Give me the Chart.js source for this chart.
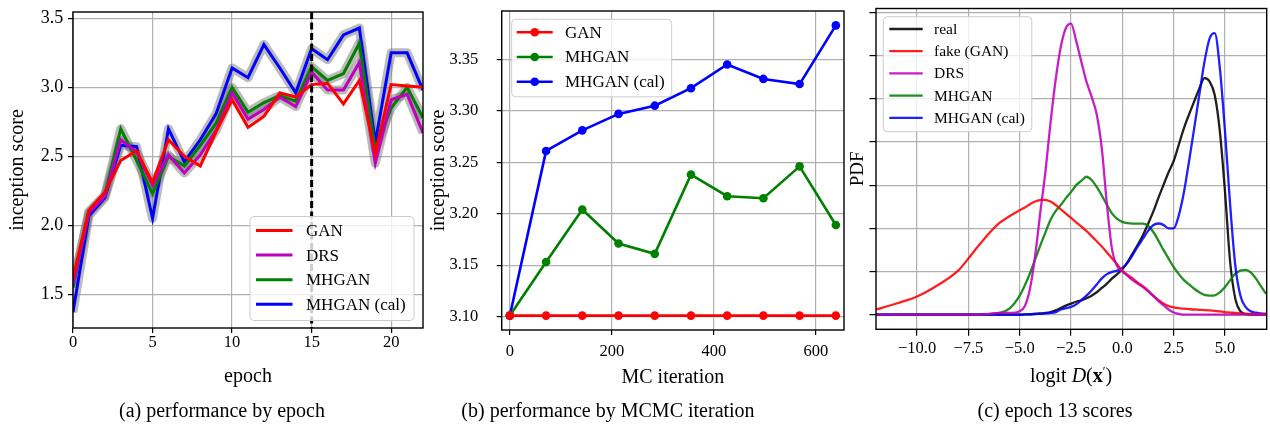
<!DOCTYPE html>
<html><head><meta charset="utf-8">
<script src="https://cdn.jsdelivr.net/npm/chart.js@4.4.1/dist/chart.umd.min.js"></script>
<style>
html,body{margin:0;padding:0;background:#fff;width:1270px;height:428px;overflow:hidden;position:relative;}
canvas{position:absolute;top:0;}
.cap{position:absolute;font-family:"Liberation Serif",serif;font-size:20px;line-height:1;color:#000;white-space:nowrap;transform:translate(-50%,-50%);}
.cap sup{font-size:0.6em;vertical-align:0.55em;}
</style></head><body>
<canvas id="ca" width="430" height="428" style="left:0px;width:430px;height:428px"></canvas>
<canvas id="cb" width="425" height="428" style="left:425px;width:425px;height:428px"></canvas>
<canvas id="cc" width="425" height="428" style="left:845px;width:425px;height:428px"></canvas>
<div class="cap" style="left:1071px;top:375px">logit <i>D</i>(<b>x</b><sup>′</sup>)</div>
<div class="cap" style="left:222px;top:410px">(a) performance by epoch</div>
<div class="cap" style="left:608px;top:410px">(b) performance by MCMC iteration</div>
<div class="cap" style="left:1055px;top:410px">(c) epoch 13 scores</div>
<script>
// ---------- Panel (a): inception score by epoch ----------
const epochs = [0,1,2,3,4,5,6,7,8,9,10,11,12,13,14,15,16,17,18,19,20,21,22];
const ganA      = [1.62,2.11,2.24,2.47,2.54,2.31,2.62,2.50,2.43,2.68,2.91,2.71,2.79,2.96,2.93,3.02,3.03,2.88,3.05,2.52,3.02,3.01,3.00];
const drsA      = [1.57,2.09,2.21,2.62,2.53,2.29,2.51,2.38,2.51,2.69,2.96,2.77,2.84,2.93,2.86,3.11,2.98,2.98,3.18,2.45,2.91,2.95,2.67];
const mhganA    = [1.55,2.10,2.22,2.70,2.47,2.23,2.50,2.43,2.58,2.74,3.00,2.82,2.89,2.94,2.90,3.15,3.05,3.10,3.32,2.55,2.85,3.00,2.78];
const mhganCalA = [1.37,2.07,2.20,2.58,2.57,2.05,2.70,2.46,2.62,2.81,3.14,3.07,3.31,3.14,2.96,3.28,3.20,3.38,3.43,2.60,3.25,3.25,2.98];
const selectedEpoch = 15;
const aXTicks = [0,5,10,15,20];
const aYTicks = [1.5,2.0,2.5,3.0,3.5];
const aLabels = ['GAN','DRS','MHGAN','MHGAN (cal)'];

// ---------- Panel (b): inception score by MC iteration ----------
const mcIter     = [0,71,142,213,284,355,426,497,568,639];
const ganB       = [3.101,3.101,3.101,3.101,3.101,3.101,3.101,3.101,3.101,3.101];
const mhganB     = [3.101,3.153,3.204,3.171,3.161,3.238,3.217,3.215,3.246,3.189];
const mhganCalB  = [3.101,3.261,3.281,3.297,3.305,3.322,3.345,3.331,3.326,3.383];
const bXTicks = [0,200,400,600];
const bYTicks = [3.10,3.15,3.20,3.25,3.30,3.35];
const bLabels = ['GAN','MHGAN','MHGAN (cal)'];

// ---------- Panel (c): PDF of logit D(x') at epoch 13 ----------
const logitX = [-12,-11,-10,-9,-8,-7.5,-7,-6.5,-6,-5.5,-5,-4.75,-4.5,-4.25,-4,-3.75,-3.5,-3.25,-3,-2.75,-2.5,-2.25,-2,-1.75,-1.5,-1.25,-1,-0.75,-0.5,-0.25,0,0.25,0.5,0.75,1,1.25,1.5,1.75,2,2.25,2.5,2.75,3,3.25,3.5,3.75,4,4.25,4.5,4.75,5,5.25,5.5,5.75,6,6.25,6.5,6.75,7];
const pdfReal = [0,0,0,0,0,0,0,0,0,0,0,0.0003,0.0005,0.001,0.0015,0.002,0.003,0.005,0.0077,0.0105,0.0128,0.015,0.0166,0.019,0.022,0.026,0.031,0.036,0.042,0.047,0.053,0.061,0.071,0.081,0.092,0.105,0.119,0.135,0.150,0.165,0.178,0.197,0.216,0.232,0.247,0.262,0.2738,0.270,0.254,0.212,0.142,0.061,0.0186,0.004,0.001,0,0,0,0];
const pdfFake = [0.006,0.013,0.021,0.034,0.051,0.065,0.080,0.094,0.106,0.114,0.121,0.124,0.128,0.131,0.1326,0.133,0.131,0.127,0.122,0.117,0.112,0.107,0.102,0.097,0.091,0.085,0.079,0.072,0.065,0.058,0.051,0.046,0.042,0.037,0.033,0.028,0.022,0.017,0.013,0.010,0.0085,0.0075,0.007,0.0065,0.006,0.0057,0.0054,0.005,0.0045,0.0038,0.003,0.0025,0.002,0.0015,0.001,0.0008,0.0006,0.0005,0.0004];
const pdfDRS = [0,0,0,0,0,0,0,0.001,0.002,0.002,0.004,0.010,0.030,0.068,0.118,0.165,0.222,0.272,0.310,0.332,0.337,0.317,0.293,0.270,0.2525,0.232,0.192,0.127,0.075,0.056,0.050,0.045,0.040,0.036,0.032,0.027,0.022,0.016,0.011,0.006,0.0025,0.001,0,0,0,0,0,0,0,0,0,0,0,0,0,0,0,0,0];
const pdfMHGAN = [0,0,0,0,0,0,0,0.0005,0.002,0.007,0.022,0.034,0.048,0.064,0.080,0.095,0.110,0.120,0.127,0.135,0.142,0.150,0.155,0.1597,0.156,0.148,0.138,0.127,0.117,0.111,0.1075,0.106,0.1055,0.1055,0.1055,0.103,0.096,0.086,0.075,0.065,0.055,0.047,0.040,0.035,0.030,0.026,0.023,0.0222,0.0225,0.026,0.032,0.040,0.0476,0.051,0.052,0.049,0.042,0.033,0.024];
const pdfMHGANCal = [0,0,0,0,0,0,0,0,0,0,0,0.0003,0.0005,0.0008,0.001,0.0015,0.002,0.003,0.006,0.0075,0.009,0.012,0.017,0.022,0.028,0.035,0.042,0.047,0.0495,0.051,0.054,0.060,0.069,0.079,0.088,0.097,0.1036,0.1056,0.104,0.100,0.100,0.115,0.142,0.178,0.216,0.255,0.293,0.320,0.326,0.285,0.212,0.127,0.057,0.022,0.009,0.004,0.0023,0.0015,0.001];
const cXTicks = [-10,-7.5,-5,-2.5,0,2.5,5];
const cYTicks = [0,0.05,0.10,0.15,0.20,0.25,0.30,0.35];
const cLabels = ['real','fake (GAN)','DRS','MHGAN','MHGAN (cal)'];

// ---------- styling ----------
const RED='#ff0000', MAG='#bf00bf', GRN='#008000', BLU='#0000ff', BLK='#000000';
const FONT='Liberation Serif';
const tickFont = {family:FONT, size:16.5, lineHeight:1};
const titleFont = {family:FONT, size:20, lineHeight:1};
Chart.defaults.font.family = FONT;
Chart.defaults.color = '#000';

function pts(xs, ys){ return xs.map((x,i)=>({x:x, y:ys[i]})); }

function gridOpts(tl){
  return {color:'#b0b0b0', lineWidth:1.2, drawTicks:true, tickLength:tl, tickColor:'#000', tickWidth:1.2};
}
function makeScales(c){
  return {
    x:{type:'linear', min:c.xMin, max:c.xMax,
      afterFit:s=>{ s.height=c.xHeight; s.paddingLeft=0; s.paddingRight=0; },
      afterBuildTicks:s=>{ s.ticks=c.xTicks.map(v=>({value:v})); },
      ticks:{autoSkip:false, maxRotation:0, minRotation:0, padding:c.xTickPad, font:tickFont, color:'#000', callback:c.xFmt},
      grid:gridOpts(c.tickLen), border:{display:false},
      title:c.xTitle?{display:true, text:c.xTitle, font:titleFont, color:'#000', padding:{top:0,bottom:c.xTitlePad}}:{display:false}
    },
    y:{type:'linear', min:c.yMin, max:c.yMax,
      afterFit:s=>{ s.width=c.yWidth; s.paddingTop=0; s.paddingBottom=0; },
      afterBuildTicks:s=>{ s.ticks=c.yTicks.map(v=>({value:v})); },
      ticks:{autoSkip:false, padding:c.yTickPad, font:c.yTickFont||tickFont, color:'#000', callback:c.yFmt},
      grid:gridOpts(c.tickLen), border:{display:false},
      title:{display:true, text:c.yTitle, font:c.yTitleFont||titleFont, color:'#000', padding:{top:c.yTitlePad,bottom:0}}
    }
  };
}

function roundRect(ctx,x,y,w,h,r){
  ctx.beginPath(); ctx.moveTo(x+r,y); ctx.lineTo(x+w-r,y); ctx.arcTo(x+w,y,x+w,y+r,r);
  ctx.lineTo(x+w,y+h-r); ctx.arcTo(x+w,y+h,x+w-r,y+h,r); ctx.lineTo(x+r,y+h);
  ctx.arcTo(x,y+h,x,y+h-r,r); ctx.lineTo(x,y+r); ctx.arcTo(x,y,x+r,y,r); ctx.closePath();
}
const framePlugin = {id:'frame', afterDraw(chart){
  const {left,top,right,bottom}=chart.chartArea, ctx=chart.ctx;
  ctx.save(); ctx.strokeStyle='#000'; ctx.lineWidth=1.4; ctx.strokeRect(left,top,right-left,bottom-top); ctx.restore();
}};
const legendPlugin = {id:'mplLegend', afterDraw(chart){
  const L = chart.config.options.mplLegendCfg; if(!L) return;
  const ctx=chart.ctx; ctx.save();
  roundRect(ctx,L.x,L.y,L.w,L.h,4);
  ctx.fillStyle='rgba(255,255,255,0.8)'; ctx.fill();
  ctx.strokeStyle='#cccccc'; ctx.lineWidth=1; ctx.stroke();
  L.labels.forEach((lab,i)=>{
    const cy=L.row0+i*L.rowH, col=L.colors[i];
    ctx.strokeStyle=col; ctx.lineWidth=L.lw; ctx.beginPath(); ctx.moveTo(L.hx0,cy); ctx.lineTo(L.hx1,cy); ctx.stroke();
    if(L.marker){ ctx.fillStyle=col; ctx.beginPath(); ctx.arc((L.hx0+L.hx1)/2,cy,L.marker,0,2*Math.PI); ctx.fill(); }
    ctx.fillStyle='#000'; ctx.font=L.font; ctx.textBaseline='middle'; ctx.textAlign='left';
    ctx.fillText(lab,L.tx,cy+1);
  });
  ctx.restore();
}};
const epochLine = {id:'epochLine', afterDatasetsDraw(chart){
  const v = chart.config.options.markEpoch; if(v===undefined) return;
  const x = chart.scales.x.getPixelForValue(v), a=chart.chartArea, ctx=chart.ctx;
  ctx.save(); ctx.strokeStyle='#000'; ctx.lineWidth=3; ctx.setLineDash([7,3.5]);
  ctx.beginPath(); ctx.moveTo(x,a.top); ctx.lineTo(x,a.bottom); ctx.stroke(); ctx.restore();
}};

const common = {responsive:false, animation:false, devicePixelRatio:1,
  events:[], plugins:{legend:{display:false}, tooltip:{enabled:false}}};

// ---------- chart (a) ----------
const bandStyle = {borderColor:'rgba(120,120,120,0.5)', borderWidth:9, pointRadius:0, tension:0, clip:0, borderJoinStyle:'round'};
function lineA(data,color,order){ return {data:pts(epochs,data), borderColor:color, borderWidth:3, pointRadius:0, tension:0, clip:0, order:order}; }
new Chart(document.getElementById('ca'), {
  type:'line',
  data:{datasets:[
    lineA(ganA,RED,1), lineA(drsA,MAG,2), lineA(mhganA,GRN,3), lineA(mhganCalA,BLU,4),
    Object.assign({data:pts(epochs,drsA), order:10}, bandStyle),
    Object.assign({data:pts(epochs,mhganA), order:10}, bandStyle),
    Object.assign({data:pts(epochs,mhganCalA), order:10}, bandStyle)
  ]},
  options:Object.assign({}, common, {
    layout:{padding:{left:0,right:7,top:12,bottom:30}},
    markEpoch:selectedEpoch,
    scales:makeScales({xMin:0,xMax:22,yMin:1.256,yMax:3.546,xTicks:aXTicks,yTicks:aYTicks,
      xFmt:v=>String(v), yFmt:v=>v.toFixed(1), xHeight:70, yWidth:73, tickLen:5,
      yTickFont:{family:FONT, size:18, lineHeight:1},
      xTickPad:1.5, yTickPad:4.7, xTitle:'epoch', xTitlePad:11.3, yTitle:'inception score', yTitlePad:7.5}),
    mplLegendCfg:{x:250,y:216.5,w:164,h:104,row0:230.5,rowH:24.6,hx0:256,hx1:292.5,tx:306,lw:3,
      font:'17px "Liberation Serif"', labels:aLabels, colors:[RED,MAG,GRN,BLU]}
  }),
  plugins:[epochLine, legendPlugin, framePlugin]
});

// ---------- chart (b) ----------
function lineB(data,color,order){ return {data:pts(mcIter,data), borderColor:color, backgroundColor:color, borderWidth:2.6,
  pointRadius:4.3, pointBorderWidth:0, pointBackgroundColor:color, tension:0, order:order}; }
new Chart(document.getElementById('cb'), {
  type:'line',
  data:{datasets:[ lineB(ganB,RED,1), lineB(mhganB,GRN,2), lineB(mhganCalB,BLU,3) ]},
  options:Object.assign({}, common, {
    layout:{padding:{left:0,right:6,top:11,bottom:30}},
    scales:makeScales({xMin:-16,xMax:655,yMin:3.087,yMax:3.397,xTicks:bXTicks,yTicks:bYTicks,
      xFmt:v=>String(v), yFmt:v=>v.toFixed(2), xHeight:68, yWidth:76.7, tickLen:5,
      xTickPad:8.7, yTickPad:18.4, xTitle:'MC iteration', xTitlePad:10.7, yTitle:'inception score', yTitlePad:3.3}),
    mplLegendCfg:{x:86.7,y:19.3,w:160,h:77.5,row0:32.3,rowH:24.7,hx0:91.7,hx1:127.7,tx:140,lw:2.6,marker:4.3,
      font:'17px "Liberation Serif"', labels:bLabels, colors:[RED,GRN,BLU]}
  }),
  plugins:[legendPlugin, framePlugin]
});

// ---------- chart (c) ----------
function lineC(data,color,order){ return {data:pts(logitX,data), borderColor:color, borderWidth:2.3, pointRadius:0,
  cubicInterpolationMode:'monotone', clip:0, order:order}; }
const cCols = ['rgba(0,0,0,0.88)','rgba(255,0,0,0.88)','rgba(191,0,191,0.88)','rgba(0,128,0,0.88)','rgba(0,0,255,0.88)'];
new Chart(document.getElementById('cc'), {
  type:'line',
  data:{datasets:[ lineC(pdfReal,cCols[0],5), lineC(pdfFake,cCols[1],2), lineC(pdfDRS,cCols[2],1),
                   lineC(pdfMHGAN,cCols[3],4), lineC(pdfMHGANCal,cCols[4],3) ]},
  options:Object.assign({}, common, {
    layout:{padding:{left:0,right:3.3,top:8.5,bottom:30}},
    scales:makeScales({xMin:-12.0,xMax:7.03,yMin:-0.0169,yMax:0.3545,xTicks:cXTicks,yTicks:cYTicks,
      xFmt:v=>(v<0?'\u2212':'')+Math.abs(v).toFixed(1), yFmt:v=>'', xHeight:68.7, yWidth:31, tickLen:6.5,
      xTickPad:4.5, yTickPad:2, xTitle:null, xTitlePad:0, yTitle:'PDF', yTitlePad:3.5, yTitleFont:{family:FONT,size:19,lineHeight:1}}),
    mplLegendCfg:{x:38.3,y:16.7,w:148.5,h:115,row0:29,rowH:22.2,hx0:44.3,hx1:77.7,tx:89,lw:2.3,
      font:'15.5px "Liberation Serif"', labels:cLabels, colors:cCols}
  }),
  plugins:[legendPlugin, framePlugin]
});
</script>
</body></html>
